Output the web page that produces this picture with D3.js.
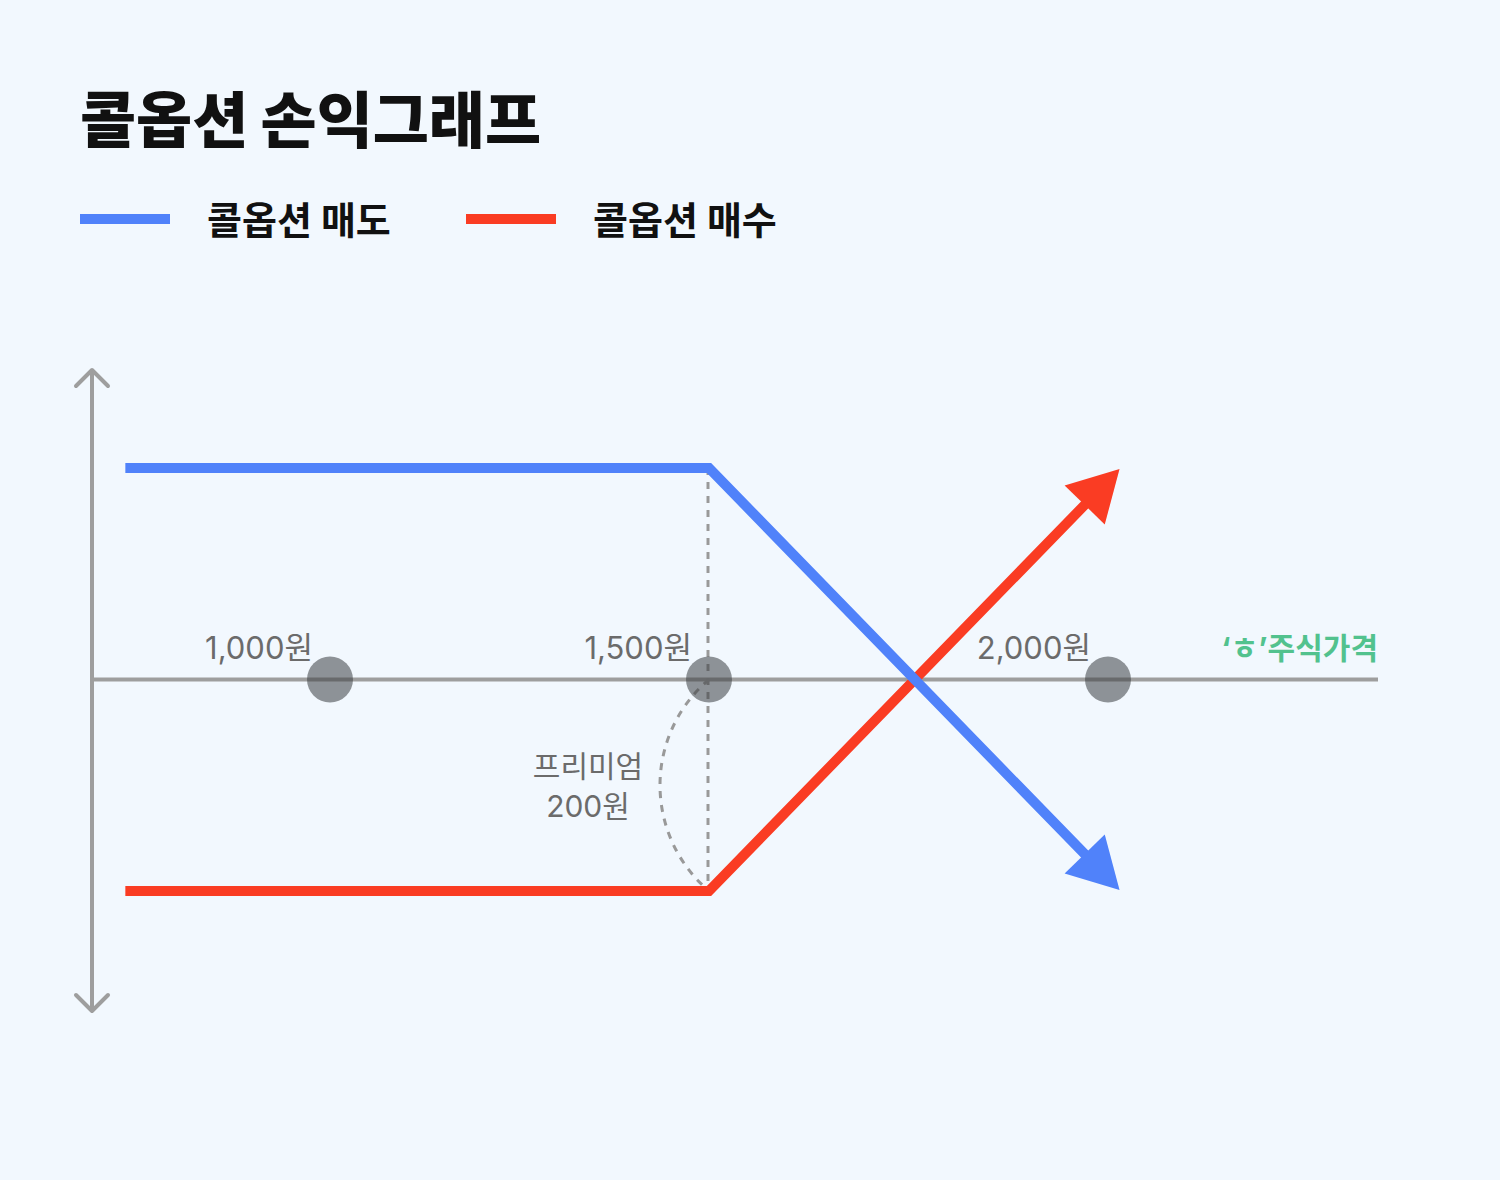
<!DOCTYPE html>
<html>
<head>
<meta charset="utf-8">
<script src="https://cdn.jsdelivr.net/npm/d3@7"></script>
<style>
  html, body { margin: 0; padding: 0; background: #F2F8FE; }
  svg { display: block; font-family: Inter, "Noto Sans CJK KR", "Noto Sans", sans-serif; }
</style>
</head>
<body>
<script>
// data
const title = "콜옵션 손익그래프";
const seriesNames = ["콜옵션 매도", "콜옵션 매수"];
const seriesColors = ["#5082FA", "#FA3C23"];
const prices = [1000, 1500, 2000];
const priceLabels = ["1,000원", "1,500원", "2,000원"];
const axisLabel = "‘ㅎ’주식가격";
const premiumLabel = ["프리미엄", "200원"];
const strike = 1500;
const premium = 200;
// payoff points [price, profit]
const sellPayoff = [[730, 200], [1500, 200], [1990, -180]];
const buyPayoff = [[730, -200], [1500, -200], [1990, 180]];

init();

function init() {
  let width = 1500, height = 1180;

  let svg = d3.select("body")
              .append("svg")
              .attr("width", width)
              .attr("height", height);

  svg.append("rect")
     .attr("width", width)
     .attr("height", height)
     .attr("fill", "#F2F8FE");

  // scales
  let x = d3.scaleLinear().domain(prices).range([330, 709, 1108]);
  let y = d3.scaleLinear().domain([-premium, premium]).range([891, 468]);

  // title
  svg.append("text")
     .attr("x", 80)
     .attr("y", 143)
     .attr("font-size", 61)
     .attr("font-weight", 900)
     .attr("fill", "#111")
     .text(title);

  // legend
  let legend = svg.selectAll(".legend")
                  .data(seriesNames)
                  .enter()
                  .append("g")
                  .attr("class", "legend")
                  .attr("transform", (d, i) => `translate(${80 + i * 386},0)`);

  legend.append("rect")
        .attr("x", 0)
        .attr("y", 214)
        .attr("width", 90)
        .attr("height", 10)
        .attr("fill", (d, i) => seriesColors[i]);

  legend.append("text")
        .attr("x", 127)
        .attr("y", 234)
        .attr("font-size", 38)
        .attr("font-weight", 700)
        .attr("fill", "#111")
        .text(d => d);

  // axes
  let axisColor = "#9E9E9E";
  let y0 = y(0);
  let axisX = 92;

  svg.append("line")
     .attr("x1", axisX).attr("x2", 1378)
     .attr("y1", y0).attr("y2", y0)
     .attr("stroke", axisColor)
     .attr("stroke-width", 4);

  svg.append("line")
     .attr("x1", axisX).attr("x2", axisX)
     .attr("y1", 371).attr("y2", 1010)
     .attr("stroke", axisColor)
     .attr("stroke-width", 4);

  // chevrons
  svg.append("path")
     .attr("d", `M${axisX - 16},386 L${axisX},370 L${axisX + 16},386`)
     .attr("fill", "none")
     .attr("stroke", axisColor)
     .attr("stroke-width", 4)
     .attr("stroke-linecap", "round")
     .attr("stroke-linejoin", "round");

  svg.append("path")
     .attr("d", `M${axisX - 16},995 L${axisX},1011 L${axisX + 16},995`)
     .attr("fill", "none")
     .attr("stroke", axisColor)
     .attr("stroke-width", 4)
     .attr("stroke-linecap", "round")
     .attr("stroke-linejoin", "round");

  // dashed strike line
  let xs = x(strike);
  svg.append("line")
     .attr("x1", xs - 1).attr("x2", xs - 1)
     .attr("y1", y(premium)).attr("y2", y(-premium))
     .attr("stroke", "#999")
     .attr("stroke-width", 3)
     .attr("stroke-dasharray", "7,7");

  // premium arc
  let yTop = y(0), yBot = y(-premium);
  let chord = yBot - yTop, sag = 49;
  let r = (chord * chord / 4 + sag * sag) / (2 * sag);
  svg.append("path")
     .attr("d", `M${xs},${yTop} A${r},${r} 0 0 0 ${xs},${yBot}`)
     .attr("fill", "none")
     .attr("stroke", "#999")
     .attr("stroke-width", 3)
     .attr("stroke-dasharray", "7,7");

  svg.selectAll(".premium")
     .data(premiumLabel)
     .enter()
     .append("text")
     .attr("class", "premium")
     .attr("x", 588)
     .attr("y", (d, i) => 777 + i * 40)
     .attr("text-anchor", "middle")
     .attr("font-size", 30)
     .attr("fill", "#6B6B6B")
     .text(d => d);

  // payoff lines (buy drawn first, sell on top)
  let line = d3.line().x(d => x(d[0])).y(d => y(d[1]));
  [[buyPayoff, 1], [sellPayoff, 0]].forEach(([data, i]) => {
    svg.append("path")
       .attr("d", line(data))
       .attr("fill", "none")
       .attr("stroke", seriesColors[i])
       .attr("stroke-width", 10);

    // arrow head
    let a = data[data.length - 2], b = data[data.length - 1];
    let ax = x(a[0]), ay = y(a[1]), bx = x(b[0]), by = y(b[1]);
    let len = Math.hypot(bx - ax, by - ay);
    let ux = (bx - ax) / len, uy = (by - ay) / len;
    let tipX = bx + ux * 28, tipY = by + uy * 28;
    let baseX = tipX - ux * 50, baseY = tipY - uy * 50;
    let hw = 28;
    svg.append("path")
       .attr("d", `M${tipX},${tipY} L${baseX - uy * hw},${baseY + ux * hw} L${baseX + uy * hw},${baseY - ux * hw} Z`)
       .attr("fill", seriesColors[i]);
  });

  // price points
  svg.selectAll(".pt")
     .data(prices)
     .enter()
     .append("circle")
     .attr("class", "pt")
     .attr("cx", d => x(d))
     .attr("cy", y0)
     .attr("r", 23)
     .attr("fill", "#3F4246")
     .attr("fill-opacity", 0.56);

  svg.selectAll(".ptlabel")
     .data(prices)
     .enter()
     .append("text")
     .attr("class", "ptlabel")
     .attr("x", d => x(d) - 17)
     .attr("y", 659)
     .attr("text-anchor", "end")
     .attr("font-size", 31)
     .attr("fill", "#6B6B6B")
     .text((d, i) => priceLabels[i]);

  svg.append("text")
     .attr("x", 1378)
     .attr("y", 659)
     .attr("text-anchor", "end")
     .attr("font-size", 30)
     .attr("font-weight", 700)
     .attr("fill", "#52C28E")
     .text(axisLabel);
}
</script>
</body>
</html>
